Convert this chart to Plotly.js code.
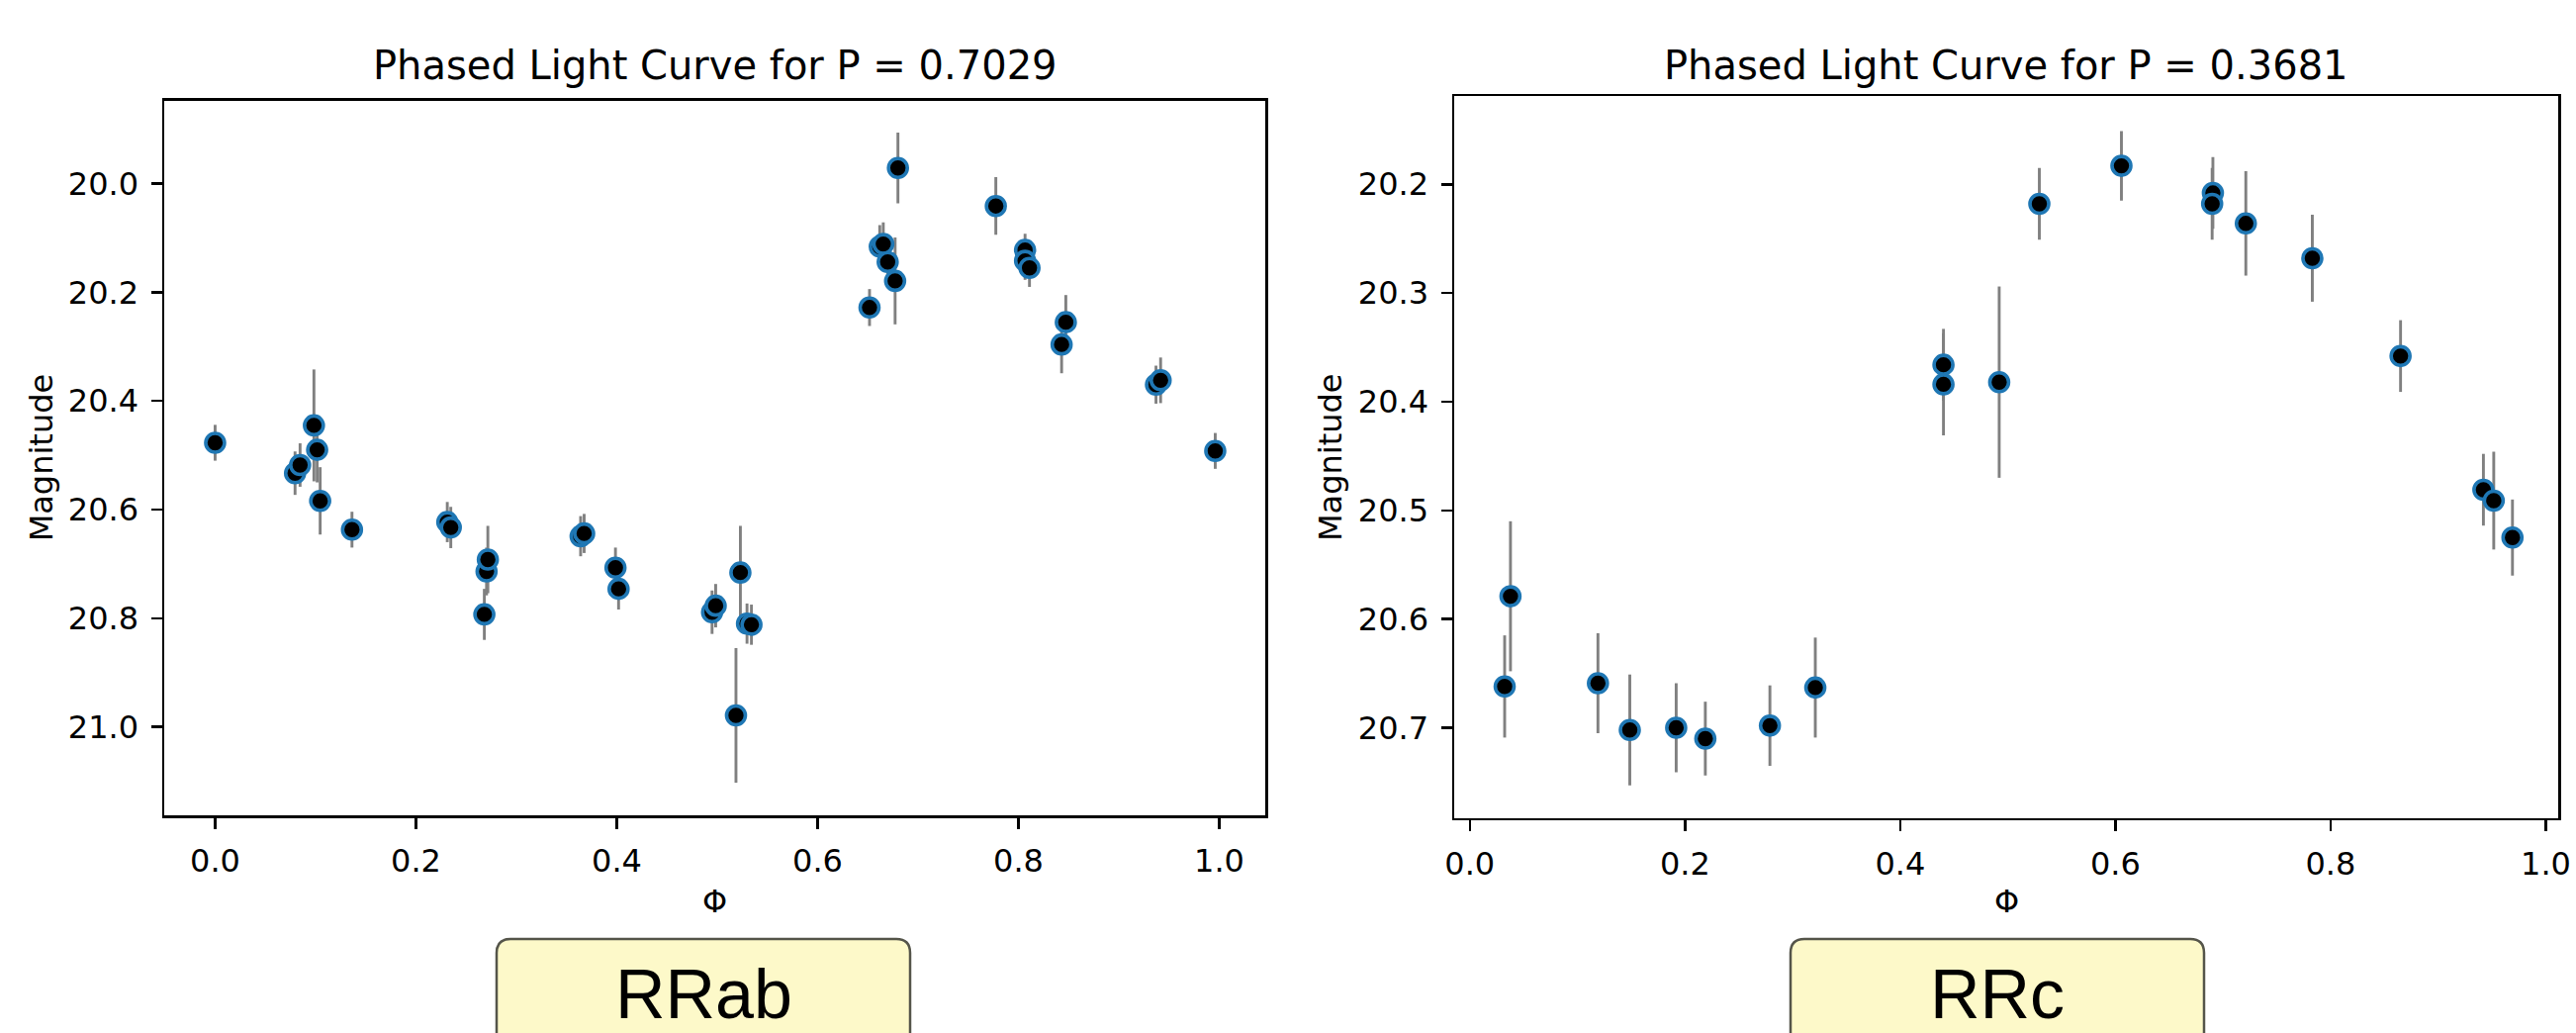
<!DOCTYPE html>
<html>
<head>
<meta charset="utf-8">
<script src="https://cdn.plot.ly/plotly-3.0.1.min.js"></script>
<style>html,body{margin:0;padding:0;background:#fff;}#chart{width:2604px;height:1044px;}</style>
</head>
<body>
<div id="chart"></div>
<script>
// ---- Data: RRab (P = 0.7029) ----
const phaseAB = [0.000, 0.0796, 0.0846, 0.0984, 0.1016, 0.1046, 0.1363, 0.2312, 0.2347, 0.2681, 0.2703, 0.2716,
  0.3640, 0.3675, 0.3987, 0.4018, 0.4949, 0.4985, 0.5187, 0.5231, 0.5297, 0.5341,
  0.6517, 0.6619, 0.6654, 0.6698, 0.6772, 0.6800, 0.7775, 0.8066, 0.8066, 0.8110, 0.8430, 0.8472, 0.9370, 0.9416, 0.9960];
const magAB = [20.477, 20.533, 20.518, 20.445, 20.490, 20.584, 20.637, 20.623, 20.633, 20.793, 20.714, 20.692,
  20.649, 20.644, 20.707, 20.746, 20.789, 20.777, 20.979, 20.716, 20.810, 20.812,
  20.228, 20.116, 20.111, 20.144, 20.179, 19.971, 20.041, 20.122, 20.142, 20.155, 20.296, 20.255, 20.370, 20.362, 20.492];
const errAB = [0.033, 0.040, 0.040, 0.103, 0.060, 0.062, 0.033, 0.037, 0.038, 0.047, 0.044, 0.062,
  0.037, 0.036, 0.037, 0.038, 0.040, 0.040, 0.124, 0.086, 0.037, 0.037,
  0.034, 0.040, 0.040, 0.040, 0.080, 0.065, 0.053, 0.030, 0.035, 0.035, 0.053, 0.050, 0.035, 0.042, 0.033];

// ---- Data: RRc (P = 0.3681) ----
const phaseC = [0.0324, 0.0378, 0.1191, 0.1487, 0.1918, 0.2189, 0.2789, 0.3211, 0.4402, 0.4402, 0.4920,
  0.5293, 0.6056, 0.6906, 0.6899, 0.7212, 0.7830, 0.8650, 0.9420, 0.9516, 0.9690];
const magC = [20.662, 20.579, 20.659, 20.702, 20.700, 20.710, 20.698, 20.663, 20.366, 20.384, 20.382,
  20.218, 20.183, 20.208, 20.218, 20.236, 20.268, 20.358, 20.481, 20.491, 20.525];
const errC = [0.047, 0.069, 0.046, 0.051, 0.041, 0.034, 0.037, 0.046, 0.033, 0.047, 0.088,
  0.033, 0.032, 0.033, 0.033, 0.048, 0.040, 0.033, 0.033, 0.045, 0.035];

// ---- Tick labels and texts ----
const xTickVals = [0.0, 0.2, 0.4, 0.6, 0.8, 1.0];
const xTickText = ['0.0', '0.2', '0.4', '0.6', '0.8', '1.0'];
const yTickValsAB = [20.0, 20.2, 20.4, 20.6, 20.8, 21.0];
const yTickTextAB = ['20.0', '20.2', '20.4', '20.6', '20.8', '21.0'];
const yTickValsC = [20.2, 20.3, 20.4, 20.5, 20.6, 20.7];
const yTickTextC = ['20.2', '20.3', '20.4', '20.5', '20.6', '20.7'];
const titles = ['Phased Light Curve for P = 0.7029', 'Phased Light Curve for P = 0.3681'];
const classLabels = ['RRab', 'RRc'];

// ---- Layout helpers (pixel -> paper) ----
const W = 2604, H = 1044;
const px = v => v / W;
const py = v => 1 - v / H;

const ax1 = {l: 166, r: 1279, t: 101.7, b: 824};
const ax2 = {l: 1470, r: 2586, t: 97.3, b: 826.7};

function trace(x, y, e, xa, ya) {
  return {
    x: x, y: y, type: 'scatter', mode: 'markers', xaxis: xa, yaxis: ya, hoverinfo: 'skip',
    error_y: {type: 'data', array: e, visible: true, color: '#808080', thickness: 2.9, width: 0},
    marker: {color: '#000000', size: 19, line: {color: '#1f77b4', width: 3.6}}
  };
}

const tickFont = {family: 'DejaVu Sans', size: 32, color: '#000'};
function xAxis(domain, range, anchor) {
  return {domain: domain, range: range, anchor: anchor, tickmode: 'array', tickvals: xTickVals, ticktext: xTickText,
    ticks: 'outside', ticklen: 11, tickwidth: 2.5, tickcolor: '#000', showline: true, mirror: true,
    linecolor: '#000', linewidth: 2.5, showgrid: false, zeroline: false, tickfont: tickFont, ticklabelstandoff: 5};
}
function yAxis(domain, range, anchor, vals, text) {
  return {domain: domain, range: range, anchor: anchor, tickmode: 'array', tickvals: vals, ticktext: text,
    ticks: 'outside', ticklen: 11, tickwidth: 2.5, tickcolor: '#000', showline: true, mirror: true,
    linecolor: '#000', linewidth: 2.5, showgrid: false, zeroline: false, tickfont: tickFont, ticklabelstandoff: 6};
}

function roundBox(x0, x1, y0, y1, r) {
  return 'M ' + px(x0) + ' ' + py(y1) +
    ' L ' + px(x0) + ' ' + py(y0 + r) +
    ' Q ' + px(x0) + ' ' + py(y0) + ' ' + px(x0 + r) + ' ' + py(y0) +
    ' L ' + px(x1 - r) + ' ' + py(y0) +
    ' Q ' + px(x1) + ' ' + py(y0) + ' ' + px(x1) + ' ' + py(y0 + r) +
    ' L ' + px(x1) + ' ' + py(y1) + ' Z';
}

const titleFont = {family: 'DejaVu Sans', size: 40, color: '#000'};
const labelFont = {family: 'DejaVu Sans', size: 32, color: '#000'};
const boxFont = {family: 'Liberation Sans', size: 70, color: '#000'};

const annotations = [
  {xref: 'paper', yref: 'paper', x: px((ax1.l + ax1.r) / 2), y: py(66), text: titles[0], showarrow: false, font: titleFont, xanchor: 'center', yanchor: 'middle'},
  {xref: 'paper', yref: 'paper', x: px((ax2.l + ax2.r) / 2), y: py(66), text: titles[1], showarrow: false, font: titleFont, xanchor: 'center', yanchor: 'middle'},
  {xref: 'paper', yref: 'paper', x: px((ax1.l + ax1.r) / 2), y: py(911), text: 'Φ', showarrow: false, font: labelFont, xanchor: 'center', yanchor: 'middle'},
  {xref: 'paper', yref: 'paper', x: px((ax2.l + ax2.r) / 2), y: py(911), text: 'Φ', showarrow: false, font: labelFont, xanchor: 'center', yanchor: 'middle'},
  {xref: 'paper', yref: 'paper', x: px(41.5), y: py((ax1.t + ax1.b) / 2), text: 'Magnitude', textangle: -90, showarrow: false, font: labelFont, xanchor: 'center', yanchor: 'middle'},
  {xref: 'paper', yref: 'paper', x: px(1345), y: py((ax2.t + ax2.b) / 2), text: 'Magnitude', textangle: -90, showarrow: false, font: labelFont, xanchor: 'center', yanchor: 'middle'},
  {xref: 'paper', yref: 'paper', x: px(711), y: py(1005), text: classLabels[0], showarrow: false, font: boxFont, xanchor: 'center', yanchor: 'middle'},
  {xref: 'paper', yref: 'paper', x: px(2019), y: py(1005), text: classLabels[1], showarrow: false, font: boxFont, xanchor: 'center', yanchor: 'middle'}
];

const shapes = [
  {type: 'path', xref: 'paper', yref: 'paper', path: roundBox(502, 920, 949, 1090, 14), fillcolor: '#fdf9c9', line: {color: '#55554a', width: 2.5}, layer: 'above'},
  {type: 'path', xref: 'paper', yref: 'paper', path: roundBox(1810, 2228, 949, 1090, 14), fillcolor: '#fdf9c9', line: {color: '#55554a', width: 2.5}, layer: 'above'}
];

const layout = {
  width: W, height: H,
  margin: {l: 0, r: 0, t: 0, b: 0, pad: 0},
  paper_bgcolor: '#ffffff', plot_bgcolor: '#ffffff',
  showlegend: false,
  font: {family: 'DejaVu Sans', color: '#000'},
  xaxis: xAxis([px(ax1.l), px(ax1.r)], [-0.0507, 1.0458], 'y'),
  yaxis: yAxis([py(ax1.b), py(ax1.t)], [21.163, 19.847], 'x', yTickValsAB, yTickTextAB),
  xaxis2: xAxis([px(ax2.l), px(ax2.r)], [-0.0145, 1.0115], 'y2'),
  yaxis2: yAxis([py(ax2.b), py(ax2.t)], [20.783, 20.119], 'x2', yTickValsC, yTickTextC),
  annotations: annotations,
  shapes: shapes
};

Plotly.newPlot('chart', [trace(phaseAB, magAB, errAB, 'x', 'y'), trace(phaseC, magC, errC, 'x2', 'y2')], layout, {staticPlot: true, displayModeBar: false});
</script>
</body>
</html>
